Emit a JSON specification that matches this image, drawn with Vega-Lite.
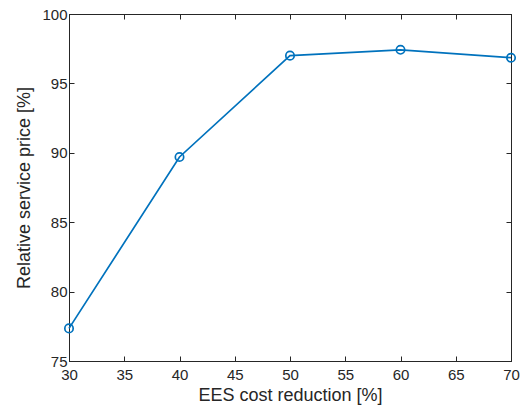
{
  "$schema": "https://vega.github.io/schema/vega-lite/v6.json",
  "width": 442,
  "height": 347,
  "autosize": {"type": "none"},
  "padding": {"left": 69, "top": 14, "right": 13, "bottom": 46},
  "background": "white",
  "config": {
    "view": {"stroke": "#262626", "strokeWidth": 1},
    "axis": {
      "grid": false,
      "domainColor": "#262626",
      "tickColor": "#262626",
      "labelColor": "#262626",
      "titleColor": "#262626",
      "labelFont": "Liberation Sans",
      "titleFont": "Liberation Sans",
      "labelFontSize": 15,
      "titleFontSize": 18,
      "titleFontWeight": "normal",
      "labelFlush": false,
      "tickSize": -5,
      "tickWidth": 1
    }
  },
  "data": {
    "values": [
      {"x": 30, "y": 77.35},
      {"x": 40, "y": 89.7},
      {"x": 50, "y": 97.0},
      {"x": 60, "y": 97.42},
      {"x": 70, "y": 96.85}
    ]
  },
  "layer": [
    {
      "mark": {"type": "line", "color": "#0072BD", "strokeWidth": 1.7},
      "encoding": {
        "x": {
          "field": "x", "type": "quantitative",
          "scale": {"domain": [30, 70], "nice": false},
          "axis": {"values": [30,35,40,45,50,55,60,65,70], "title": "EES cost reduction [%]", "labelPadding": 11, "titlePadding": 4, "labelFlush": false}
        },
        "y": {
          "field": "y", "type": "quantitative",
          "scale": {"domain": [75, 100], "nice": false, "zero": false},
          "axis": {"values": [75,80,85,90,95,100], "title": "Relative service price [%]", "labelPadding": 7, "titlePadding": 8}
        }
      }
    },
    {
      "mark": {"type": "point", "shape": "circle", "filled": false, "color": "#0072BD", "size": 70, "strokeWidth": 1.7, "opacity": 1},
      "encoding": {
        "x": {
          "field": "x", "type": "quantitative",
          "scale": {"domain": [30, 70], "nice": false},
          "axis": {"orient": "top", "values": [30,35,40,45,50,55,60,65,70], "labels": false, "title": null, "domain": true}
        },
        "y": {
          "field": "y", "type": "quantitative",
          "scale": {"domain": [75, 100], "nice": false, "zero": false},
          "axis": {"orient": "right", "values": [75,80,85,90,95,100], "labels": false, "title": null}
        }
      }
    }
  ],
  "resolve": {"axis": {"x": "independent", "y": "independent"}}
}
